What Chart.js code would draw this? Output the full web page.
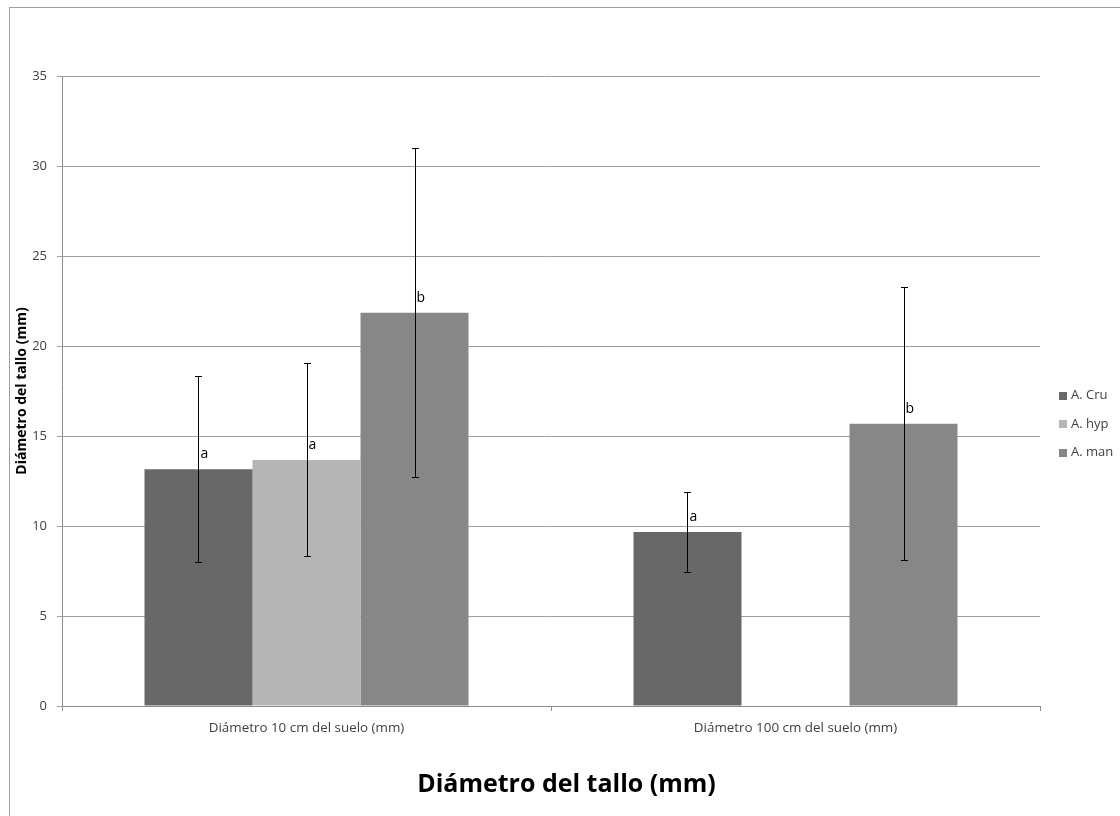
<!DOCTYPE html>
<html>
<head>
<meta charset="utf-8">
<script src="https://cdn.jsdelivr.net/npm/chart.js@4"></script>
<style>
  body { margin: 0; background: #fff; overflow: hidden; }
  #frame { position: absolute; left: 9px; top: 7px; width: 1200px; height: 900px; border: 1px solid #a0a0a0; }
  #wrap { position: absolute; left: 0; top: 0; width: 1120px; height: 816px; }
</style>
</head>
<body>
<div id="frame"></div>
<div id="wrap"><canvas id="barChart"></canvas></div>
<script>
// categories and series
var categories = ['Diámetro 10 cm del suelo (mm)', 'Diámetro 100 cm del suelo (mm)'];
var seriesNames = ['A. Cru', 'A. hyp', 'A. man'];
var seriesColors = ['#686868', '#b5b5b5', '#878787'];

// means
var cruValues = [13.15, 9.67];
var hypValues = [13.67, null];
var manValues = [21.85, 15.68];

// error bar ends
var cruLow = [7.98, 7.43];
var cruHigh = [18.32, 11.9];
var hypLow = [8.35, null];
var hypHigh = [19.07, null];
var manLow = [12.7, 8.13];
var manHigh = [30.98, 23.3];

// significance letters
var cruLetters = ['a', 'a'];
var hypLetters = ['a', null];
var manLetters = ['b', 'b'];

// y axis
var yMin = 0;
var yMax = 35;
var yStep = 5;

var lows = [cruLow, hypLow, manLow];
var highs = [cruHigh, hypHigh, manHigh];
var letters = [cruLetters, hypLetters, manLetters];

Chart.defaults.font.family = "'Open Sans'";

// error bars and letters on top of bars
var errorBars = {
    id: 'errorBars',
    afterDatasetsDraw: function (chart) {
        var ctx = chart.ctx;
        var yScale = chart.scales.y;
        ctx.save();
        chart.data.datasets.forEach(function (ds, i) {
            var meta = chart.getDatasetMeta(i);
            meta.data.forEach(function (bar, j) {
                if (ds.data[j] == null) return;
                var x = bar.x;
                var lo = lows[i][j], hi = highs[i][j];
                if (lo != null && hi != null) {
                    var yLo = Math.round(yScale.getPixelForValue(lo)) + 0.5;
                    var yHi = Math.round(yScale.getPixelForValue(hi)) + 0.5;
                    var xx = Math.round(x) + 0.5;
                    ctx.strokeStyle = '#000';
                    ctx.lineWidth = 1;
                    ctx.beginPath();
                    ctx.moveTo(xx, yLo); ctx.lineTo(xx, yHi);
                    ctx.moveTo(xx - 3.5, yLo); ctx.lineTo(xx + 3.5, yLo);
                    ctx.moveTo(xx - 3.5, yHi); ctx.lineTo(xx + 3.5, yHi);
                    ctx.stroke();
                }
                var t = letters[i][j];
                if (t) {
                    ctx.fillStyle = '#000';
                    ctx.font = "14px 'Open Sans'";
                    ctx.textAlign = 'left';
                    ctx.textBaseline = 'alphabetic';
                    ctx.fillText(t, x + 2, bar.y - 11);
                }
            });
        });
        ctx.restore();
    }
};

// legend on the right, as its own layout box
var sideLegend = {
    id: 'sideLegend',
    start: function (chart) {
        var box = {
            position: 'right', weight: 1000, fullSize: false, options: {},
            width: 80, height: 0, left: 0, top: 0, right: 0, bottom: 0,
            isHorizontal: function () { return false; },
            update: function (maxWidth, maxHeight) { this.width = 80; this.height = maxHeight; },
            draw: function () {
                var ctx = chart.ctx;
                var startY = this.top + this.height / 2 + 4.5;
                ctx.save();
                ctx.font = "13px 'Open Sans'";
                ctx.textBaseline = 'middle';
                ctx.textAlign = 'left';
                chart.data.datasets.forEach(function (ds, i) {
                    var cy = startY + i * 28.5;
                    ctx.fillStyle = ds.backgroundColor;
                    ctx.fillRect(box.left + 19, Math.round(cy - 4), 8, 8);
                    ctx.fillStyle = '#404040';
                    ctx.fillText(ds.label, box.left + 31, cy);
                });
                ctx.restore();
            }
        };
        Chart.layouts.addBox(chart, box);
    }
};

var ctxBar = document.getElementById('barChart').getContext('2d');
new Chart(ctxBar, {
    type: 'bar',
    data: {
        labels: categories,
        datasets: [
            { label: seriesNames[0], data: cruValues, backgroundColor: seriesColors[0] },
            { label: seriesNames[1], data: hypValues, backgroundColor: seriesColors[1] },
            { label: seriesNames[2], data: manValues, backgroundColor: seriesColors[2] }
        ]
    },
    options: {
        responsive: true,
        maintainAspectRatio: false,
        animation: false,
        layout: { padding: { left: 13, top: 76, right: 0, bottom: 0 } },
        datasets: { bar: { categoryPercentage: 0.6626, barPercentage: 1, borderWidth: 0 } },
        scales: {
            x: {
                grid: { drawOnChartArea: false, tickLength: 5, color: '#8c8c8c', offset: true },
                border: { color: '#8c8c8c' },
                ticks: { padding: 9, color: '#404040', font: { size: 13.4 }, maxRotation: 0 },
                afterFit: function (scale) { scale.height = 64; }
            },
            y: {
                min: yMin,
                max: yMax,
                ticks: { stepSize: yStep, padding: 10, color: '#404040', font: { size: 13 } },
                grid: { color: '#a0a0a0', tickLength: 5 },
                border: { color: '#8c8c8c' },
                title: {
                    display: true,
                    text: 'Diámetro del tallo (mm)',
                    color: '#000',
                    font: { size: 14, weight: 'bold' },
                    padding: { top: 1, bottom: 0 }
                },
                afterFit: function (scale) { scale.width = 49; }
            }
        },
        plugins: {
            legend: { display: false },
            tooltip: { enabled: false },
            title: {
                display: true,
                position: 'bottom',
                text: 'Diámetro del tallo (mm)',
                color: '#000',
                font: { size: 25, weight: 'bold' },
                padding: { top: 0, bottom: 16 }
            }
        }
    },
    plugins: [errorBars, sideLegend]
});
</script>
</body>
</html>
